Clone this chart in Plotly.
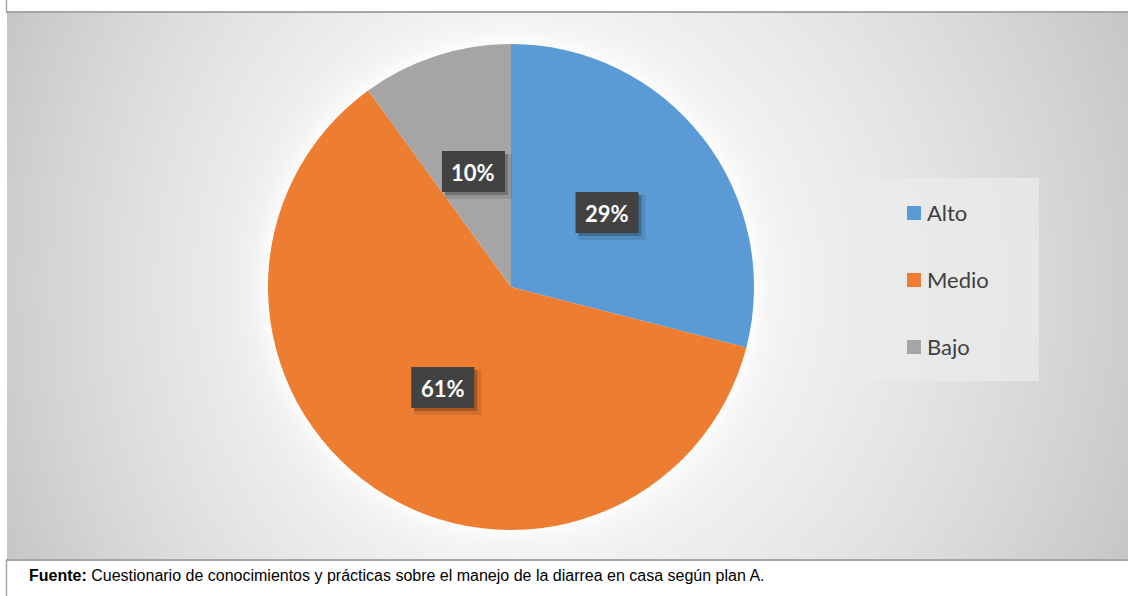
import base64
import struct
import zlib

import numpy as np
import plotly.graph_objects as go

# Nivel de conocimiento
categorias = ["Alto", "Medio", "Bajo"]
porcentajes = [29, 61, 10]
colores = ["#5B9BD5", "#ED7D31", "#A5A5A5"]
fuente_negrita = "Fuente:"
fuente_texto = " Cuestionario de conocimientos y prácticas sobre el manejo de la diarrea en casa según plan A."

W, H = 1128, 596
CX, CY, R = 511, 287, 243          # pie centre and radius (px)
AREA_X0, AREA_Y0, AREA_Y1 = 7, 13, 559


def px_x(x):
    return x / W


def px_y(y):
    return 1 - y / H


def png_uri(gray):
    h, w = gray.shape
    raw = b"".join(b"\x00" + gray[r].tobytes() for r in range(h))

    def chunk(tag, data):
        c = struct.pack(">I", len(data)) + tag + data
        return c + struct.pack(">I", zlib.crc32(tag + data) & 0xFFFFFFFF)

    png = (b"\x89PNG\r\n\x1a\n"
           + chunk(b"IHDR", struct.pack(">IIBBBBB", w, h, 8, 0, 0, 0, 0))
           + chunk(b"IDAT", zlib.compress(raw, 9))
           + chunk(b"IEND", b""))
    return "data:image/png;base64," + base64.b64encode(png).decode()


# radial grey background of the chart area with a soft light halo around the pie
aw, ah = W - AREA_X0, AREA_Y1 - AREA_Y0
xs = AREA_X0 + np.arange(aw) + 0.5
ys = AREA_Y0 + np.arange(ah) + 0.5
X, Y = np.meshgrid(xs, ys)
gx, gy = 515.0, 287.0
dx = np.where(X < gx, (X - gx) / (gx - AREA_X0), (X - gx) / (W - gx))
dy = np.where(Y < gy, (Y - gy) / (gy - AREA_Y0), (Y - gy) / (AREA_Y1 - gy))
t = np.sqrt(dx ** 2 + 0.2 * dy ** 2)
val = 255 - 49 * t ** 1.6
d = np.hypot(X - CX, Y - CY) - R
halo = np.where(d > 0, 0.85 * np.exp(-np.clip(d, 0, None) / 14), 0)
val = val + (255 - val) * halo
bg = np.clip(val, 0, 255).astype(np.uint8)

fig = go.Figure()
fig.add_trace(go.Pie(
    labels=categorias,
    values=porcentajes,
    marker=dict(colors=colores, line=dict(width=0)),
    sort=False,
    direction="clockwise",
    rotation=0,
    textinfo="none",
    hoverinfo="label+percent",
    showlegend=False,
    domain=dict(x=[px_x(CX - R), px_x(CX + R)], y=[px_y(CY + R), px_y(CY - R)]),
))

shapes = []
annotations = []

# data labels: dark boxes at half radius on each slice's mid angle
total = sum(porcentajes)
acc = 0
bw, bh = 63, 41
for v in porcentajes:
    mid = (acc + v / 2) / total * 2 * np.pi
    acc += v
    lx = CX + 0.5 * R * np.sin(mid)
    ly = CY - 0.5 * R * np.cos(mid)
    x0, x1, y0, y1 = lx - bw / 2, lx + bw / 2, ly - bh / 2, ly + bh / 2
    for off, alpha, grow in [(5, 0.10, 2), (3, 0.22, 0)]:
        shapes.append(dict(type="rect", xref="paper", yref="paper",
                           x0=px_x(x0 + off - grow), x1=px_x(x1 + off + grow),
                           y0=px_y(y1 + off + grow), y1=px_y(y0 + off - grow),
                           line=dict(width=0), fillcolor=f"rgba(0,0,0,{alpha})"))
    shapes.append(dict(type="rect", xref="paper", yref="paper",
                       x0=px_x(x0), x1=px_x(x1), y0=px_y(y1), y1=px_y(y0),
                       line=dict(width=0), fillcolor="#424242"))
    annotations.append(dict(xref="paper", yref="paper", x=px_x(lx), y=px_y(ly + 1),
                            xanchor="center", yanchor="middle", showarrow=False,
                            text=f"<b>{v}%</b>",
                            font=dict(family="Lato", size=22, color="white")))

# legend panel
shapes.append(dict(type="rect", xref="paper", yref="paper", layer="below",
                   x0=px_x(857), x1=px_x(1039), y0=px_y(381), y1=px_y(178),
                   line=dict(width=0), fillcolor="rgba(235,235,235,0.75)"))
for i, (lab, col) in enumerate(zip(categorias, colores)):
    cy = 213 + 67 * i
    shapes.append(dict(type="rect", xref="paper", yref="paper",
                       x0=px_x(907), x1=px_x(921), y0=px_y(cy + 7), y1=px_y(cy - 7),
                       line=dict(width=0), fillcolor=col))
    annotations.append(dict(xref="paper", yref="paper", x=px_x(925), y=px_y(cy - 1),
                            xanchor="left", yanchor="middle", showarrow=False,
                            text=lab, font=dict(family="Lato", size=22, color="#404040")))

# frame lines
line_col = "#a6a6a6"
shapes += [
    dict(type="line", xref="paper", yref="paper", x0=px_x(6), x1=1,
         y0=px_y(12), y1=px_y(12), line=dict(color=line_col, width=2)),
    dict(type="line", xref="paper", yref="paper", x0=px_x(6.5), x1=px_x(6.5),
         y0=1, y1=px_y(12), line=dict(color=line_col, width=1.5)),
    dict(type="line", xref="paper", yref="paper", x0=px_x(6), x1=1,
         y0=px_y(560), y1=px_y(560), line=dict(color=line_col, width=2)),
    dict(type="line", xref="paper", yref="paper", x0=px_x(6.5), x1=px_x(6.5),
         y0=px_y(560), y1=0, line=dict(color=line_col, width=1.5)),
]

annotations.append(dict(xref="paper", yref="paper", x=px_x(27), y=px_y(575),
                        xanchor="left", yanchor="middle", showarrow=False,
                        text=f"<b>{fuente_negrita}</b>{fuente_texto}",
                        font=dict(family="Liberation Sans", size=16, color="black")))

fig.update_layout(
    width=W, height=H,
    margin=dict(l=0, r=0, t=0, b=0),
    paper_bgcolor="white",
    plot_bgcolor="white",
    shapes=shapes,
    annotations=annotations,
    images=[dict(source=png_uri(bg), xref="paper", yref="paper",
                 x=px_x(AREA_X0), y=px_y(AREA_Y0), sizex=aw / W, sizey=ah / H,
                 xanchor="left", yanchor="top", sizing="stretch", layer="below")],
)

fig.write_html("out.html")
